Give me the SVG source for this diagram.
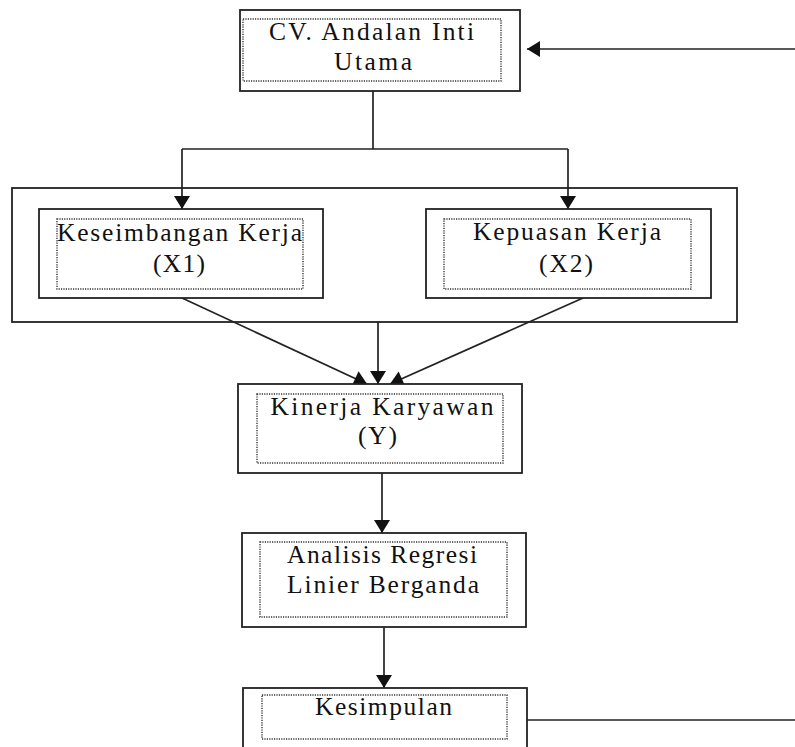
<svg xmlns="http://www.w3.org/2000/svg" width="795" height="747" viewBox="0 0 795 747">
<style>
.box{fill:#fff;stroke:#222;stroke-width:1.8}
.inner{fill:none;stroke:#333;stroke-width:1.4;stroke-dasharray:1.2 1.2}
.ln{fill:none;stroke:#222;stroke-width:1.7}
.t{font-family:"Liberation Serif","Times New Roman",serif;font-size:25.5px;fill:#111;text-anchor:middle}
</style>
<defs>
<marker id="ah" markerUnits="userSpaceOnUse" markerWidth="16" markerHeight="16" viewBox="0 0 13 16" refX="13" refY="8" orient="auto">
<path d="M0,0 L13,8 L0,16 z" fill="#111"/>
</marker>
</defs>
<rect x="0" y="0" width="795" height="747" fill="#fff"/>
<g id="container">
<rect class="box" x="12" y="188" width="725" height="134"/>
</g>
<g id="connectors">
<line class="ln" x1="795" y1="49" x2="527" y2="49" marker-end="url(#ah)"/>
<line class="ln" x1="373" y1="91" x2="373" y2="149"/>
<line class="ln" x1="182" y1="149" x2="568" y2="149"/>
<line class="ln" x1="182" y1="149" x2="182" y2="209" marker-end="url(#ah)"/>
<line class="ln" x1="568" y1="149" x2="568" y2="209" marker-end="url(#ah)"/>
<line class="ln" x1="182" y1="298" x2="367" y2="384" marker-end="url(#ah)"/>
<line class="ln" x1="583" y1="298" x2="390" y2="384" marker-end="url(#ah)"/>
<line class="ln" x1="378" y1="322" x2="378" y2="384" marker-end="url(#ah)"/>
<line class="ln" x1="382" y1="473" x2="382" y2="533" marker-end="url(#ah)"/>
<line class="ln" x1="384" y1="627" x2="384" y2="688" marker-end="url(#ah)"/>
<line class="ln" x1="527" y1="720" x2="795" y2="720"/>
</g>
<g id="cv">
<rect class="box" x="240" y="10" width="280" height="81"/>
<rect class="inner" x="243" y="19" width="258" height="62"/>
<text class="t" x="371.5" y="40" textLength="205" lengthAdjust="spacing">CV. Andalan Inti</text>
<text class="t" x="373" y="70" textLength="78" lengthAdjust="spacing">Utama</text>
</g>
<g id="x1">
<rect class="box" x="39" y="209" width="284" height="89"/>
<rect class="inner" x="57" y="219" width="246" height="70"/>
<text class="t" x="179.5" y="241" textLength="245" lengthAdjust="spacing">Keseimbangan Kerja</text>
<text class="t" x="179" y="272" textLength="52" lengthAdjust="spacing">(X1)</text>
</g>
<g id="x2">
<rect class="box" x="426" y="209" width="285" height="89"/>
<rect class="inner" x="444" y="219" width="247" height="70"/>
<text class="t" x="567" y="240" textLength="188" lengthAdjust="spacing">Kepuasan Kerja</text>
<text class="t" x="566" y="272" textLength="54" lengthAdjust="spacing">(X2)</text>
</g>
<g id="y">
<rect class="box" x="238" y="384" width="284" height="89"/>
<rect class="inner" x="257" y="394" width="246" height="69"/>
<text class="t" x="382" y="415" textLength="223" lengthAdjust="spacing">Kinerja Karyawan</text>
<text class="t" x="377.5" y="444" textLength="39" lengthAdjust="spacing">(Y)</text>
</g>
<g id="analisis">
<rect class="box" x="242" y="533" width="284" height="94"/>
<rect class="inner" x="260" y="542" width="247" height="75"/>
<text class="t" x="382" y="563" textLength="190" lengthAdjust="spacing">Analisis Regresi</text>
<text class="t" x="383" y="593" textLength="192" lengthAdjust="spacing">Linier Berganda</text>
</g>
<g id="kesimpulan">
<rect class="box" x="243" y="688" width="284" height="80"/>
<rect class="inner" x="262" y="695" width="245" height="44"/>
<text class="t" x="383.5" y="715" textLength="137" lengthAdjust="spacing">Kesimpulan</text>
</g>
</svg>
